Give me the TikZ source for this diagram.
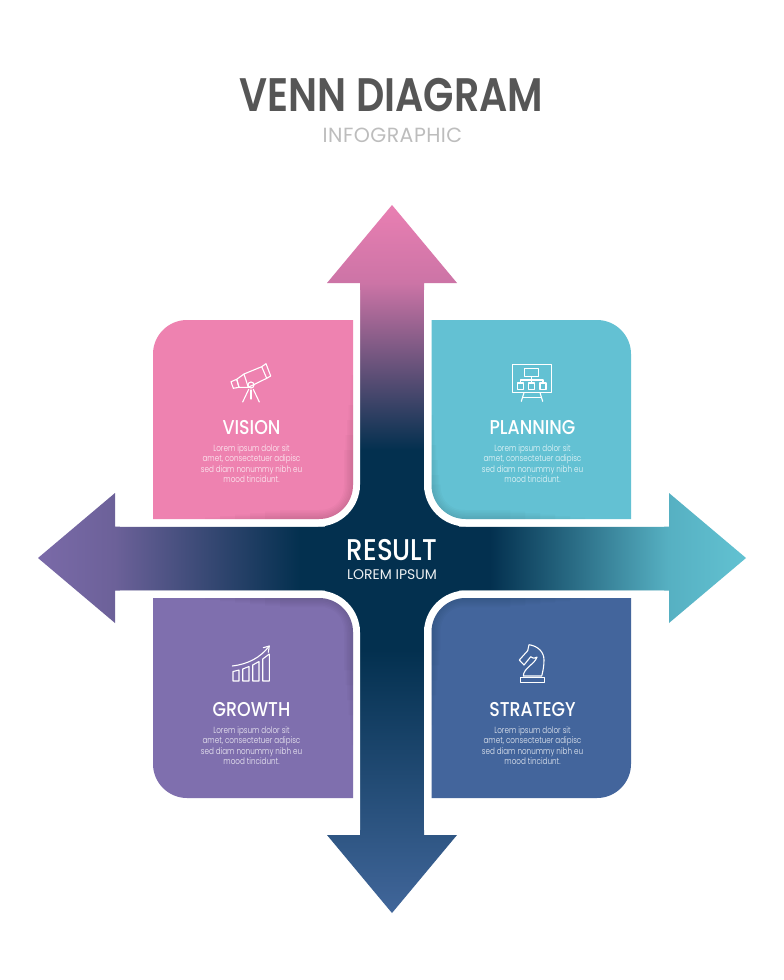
\documentclass[tikz,border=0pt]{standalone}
\usepackage{fontspec}
\setmainfont{Poppins}
\newfontfamily\titlefont[FakeStretch=0.84]{Poppins SemiBold}
\newfontfamily\headfont[FakeStretch=0.87]{Poppins Medium}
\newfontfamily\bodyfont[FakeStretch=0.8]{Poppins Light}
\newfontfamily\subfont[LetterSpace=2.2]{Poppins}
\usetikzlibrary{positioning, calc}

\definecolor{panelpink}{HTML}{EE82B0}
\definecolor{panelteal}{HTML}{63C1D3}
\definecolor{panelpurple}{HTML}{7F6FAE}
\definecolor{panelblue}{HTML}{43659C}
\definecolor{arrownavy}{HTML}{03304F}
\definecolor{arrowpink}{HTML}{E97FB2}
\definecolor{arrowmauve}{HTML}{CC74A6}
\definecolor{arrowblue}{HTML}{41669A}
\definecolor{arrowpurple}{HTML}{7A6AA8}
\definecolor{arrowviolet}{HTML}{6C6199}
\definecolor{arrowteal}{HTML}{62C2D2}
\definecolor{arrowlagoon}{HTML}{56B0C2}
\definecolor{titlegrey}{HTML}{565656}
\definecolor{subgrey}{HTML}{BDBDBD}

\pgfdeclareverticalshading{upright}{100bp}{
  color(0bp)=(arrowblue); color(25bp)=(arrowblue);
  color(43.6bp)=(arrownavy); color(57.7bp)=(arrownavy);
  color(69.5bp)=(arrowmauve); color(75bp)=(arrowpink); color(100bp)=(arrowpink)}
\pgfdeclarehorizontalshading{across}{100bp}{
  color(0bp)=(arrowpurple); color(25bp)=(arrowpurple); color(30.4bp)=(arrowviolet);
  color(43.5bp)=(arrownavy); color(56.9bp)=(arrownavy);
  color(69.5bp)=(arrowlagoon); color(75bp)=(arrowteal); color(100bp)=(arrowteal)}

% rounded top left + bottom right
\newcommand{\panelLeaf}[5]{({#3},{#2}) -- ({#1+#5},{#2})
  .. controls ({#1+0.45*#5},{#2}) and ({#1},{#2+0.45*#5}) .. ({#1},{#2+#5})
  -- ({#1},{#4}) -- ({#3-#5},{#4})
  .. controls ({#3-0.45*#5},{#4}) and ({#3},{#4-0.45*#5}) .. ({#3},{#4-#5}) -- cycle}
% rounded top right + bottom left
\newcommand{\panelFlip}[5]{({#1},{#2}) -- ({#3-#5},{#2})
  .. controls ({#3-0.45*#5},{#2}) and ({#3},{#2+0.45*#5}) .. ({#3},{#2+#5})
  -- ({#3},{#4}) -- ({#1+#5},{#4})
  .. controls ({#1+0.45*#5},{#4}) and ({#1},{#4-0.45*#5}) .. ({#1},{#4-#5}) -- cycle}

\tikzset{
  paneltitle/.style={text=white, font=\headfont\fontsize{20}{22}\selectfont, inner sep=0pt},
  panelbody/.style={text=white, text opacity=0.88, align=center, inner sep=0pt,
    font=\bodyfont\fontsize{9}{10.5}\selectfont, below=9pt of #1},
  icon/.style={draw=white, line width=1.1pt, line join=round, line cap=round},
  inshade/.style={draw=black, draw opacity=0.02}
}

\begin{document}
\begin{tikzpicture}[x=1pt, y=-1pt]
  \useasboundingbox (0,0) rectangle (784,980);
  \fill[white] (0,0) rectangle (784,980);

  \node[text=titlegrey, font=\titlefont\fontsize{47}{50}\selectfont, inner sep=0pt] (title) at (391.5,95) {VENN DIAGRAM};
  \node[text=subgrey, font=\subfont\fontsize{20.5}{22}\selectfont, inner sep=0pt] (subtitle) at (392.5,135) {INFOGRAPHIC};

  % the two arrows
  \shade[shading=across] (38,558) -- (115,493) -- (115,526.5) -- (669,526.5) -- (669,493)
    -- (746,558) -- (669,623) -- (669,590.5) -- (115,590.5) -- (115,623) -- cycle;
  \shade[shading=upright] (392,205) -- (457,283) -- (424,283) -- (424,835) -- (457,835)
    -- (392,913) -- (327,835) -- (360,835) -- (360,283) -- (327,283) -- cycle;
  \fill[arrownavy] (325,490) rectangle (459,627);

  % white collars
  \fill[white] \panelLeaf{120}{290}{360}{526.5}{42};
  \fill[white] \panelFlip{424}{290}{664}{526.5}{42};
  \fill[white] \panelFlip{120}{590.5}{360}{830}{42};
  \fill[white] \panelLeaf{424}{590.5}{664}{830}{42};

  % panels
  \fill[panelpink] \panelLeaf{153}{320}{353}{519}{34};
  \fill[panelteal] \panelFlip{431.5}{320}{631}{519}{34};
  \fill[panelpurple] \panelFlip{153}{598}{353}{798}{34};
  \fill[panelblue] \panelLeaf{431.5}{598}{631}{798}{34};

  % soft inner edges
  \begin{scope}
    \clip \panelLeaf{153}{320}{353}{519}{34};
    \foreach \w in {3,6,...,18}
      \draw[inshade, line width=\w] (353,{360+5*\w}) -- (353,485) .. controls (353,505) and (339,519) .. (319,519) -- ({190+5*\w},519);
  \end{scope}
  \begin{scope}
    \clip \panelFlip{431.5}{320}{631}{519}{34};
    \foreach \w in {3,6,...,18}
      \draw[inshade, line width=\w] (431.5,{400+5*\w}) -- (431.5,485) .. controls (431.5,505) and (445,519) .. (465,519) -- ({600-5*\w},519);
  \end{scope}
  \begin{scope}
    \clip \panelFlip{153}{598}{353}{798}{34};
    \foreach \w in {3,6,...,18}
      \draw[inshade, line width=\w] ({190+5*\w},598) -- (319,598) .. controls (339,598) and (353,612) .. (353,632) -- (353,{760-5*\w});
  \end{scope}
  \begin{scope}
    \clip \panelLeaf{431.5}{598}{631}{798}{34};
    \foreach \w in {3,6,...,18}
      \draw[inshade, line width=\w] (431.5,{740-5*\w}) -- (431.5,632) .. controls (431.5,612) and (445,598) .. (465,598) -- ({600-5*\w},598);
  \end{scope}

  \node[text=white, font=\headfont\fontsize{30}{32}\selectfont, inner sep=0pt] (result) at (392,550) {RESULT};
  \node[text=white, text opacity=0.92, font=\fontsize{14}{16}\selectfont, inner sep=0pt] (resultsub) at (392,575) {LOREM IPSUM};

  \node[paneltitle] (vision) at (251.5,428) {VISION};
  \node[panelbody=vision] (visiontext) {Lorem ipsum dolor sit\\amet, consectetuer adipisc\\sed diam nonummy nibh eu\\mood tincidunt.};
  \node[paneltitle] (planning) at (532.5,428) {PLANNING};
  \node[panelbody=planning] (planningtext) {Lorem ipsum dolor sit\\amet, consectetuer adipisc\\sed diam nonummy nibh eu\\mood tincidunt.};
  \node[paneltitle] (growth) at (251.5,710) {GROWTH};
  \node[panelbody=growth] (growthtext) {Lorem ipsum dolor sit\\amet, consectetuer adipisc\\sed diam nonummy nibh eu\\mood tincidunt.};
  \node[paneltitle] (strategy) at (532.5,710) {STRATEGY};
  \node[panelbody=strategy] (strategytext) {Lorem ipsum dolor sit\\amet, consectetuer adipisc\\sed diam nonummy nibh eu\\mood tincidunt.};

  % telescope
  \draw[icon] (244,374) -- (261.7,366.7) -- (266.7,378.3) -- (248.3,387.3);
  \draw[icon] (261.7,366.7) -- (266,363.7) -- (270.7,376) -- (266.7,378.3);
  \draw[icon] (236.7,379.3) -- (244,374) -- (248.3,387.3) -- (239,387.3) -- cycle;
  \draw[icon] (231,381.7) -- (236.7,379.3) -- (239,387.3) -- (233.3,388.3) -- cycle;
  \draw[icon] (251,385) circle (3);
  \draw[icon] (248.7,389.3) -- (242.7,402);
  \draw[icon] (253.3,389.3) -- (259.3,402);
  \draw[icon] (251,390) -- (251,399);

  % board
  \draw[icon] (512.7,364.3) rectangle (551.3,392.7);
  \draw[icon] (524.3,368.7) rectangle (538.7,376.7);
  \draw[icon] (531.7,376.7) -- (531.7,383);
  \draw[icon] (520.3,383) -- (520.3,380) -- (543,380) -- (543,383);
  \draw[icon] (517.3,383) rectangle (523.3,389.3);
  \draw[icon] (528.7,383) rectangle (534.7,389.3);
  \draw[icon] (540,383) rectangle (546,389.3);
  \draw[icon] (524,392.7) -- (521.3,401.3);
  \draw[icon] (540,392.7) -- (542.7,401.3);
  \draw[icon] (523,397.3) -- (541.3,397.3);

  % bars
  \draw[icon] (233,681) -- (233,671.5) -- (239,670) -- (239,681) -- cycle;
  \draw[icon] (242.7,681) -- (242.7,669) -- (249,666.5) -- (249,681) -- cycle;
  \draw[icon] (252.7,681) -- (252.7,665) -- (259,661.5) -- (259,681) -- cycle;
  \draw[icon] (262.7,681) -- (262.7,659) -- (269.3,654) -- (269.3,681) -- cycle;
  \draw[icon] (232.3,666) .. controls (248,664) and (260,658) .. (269.3,646);
  \draw[icon] (263.3,647.7) -- (269.3,646) -- (268.3,652.3);

  % knight
  \draw[icon] (529,644.7) .. controls (538,646) and (544,652) .. (544,660)
    .. controls (544,666) and (543,671) .. (541.7,676) -- (523.3,676)
    .. controls (523.5,668) and (535,664) .. (537,657) .. controls (534,659) and (532,658) .. (530.7,656.7)
    -- (524,665) -- (519.3,660) -- (527.7,650.7) -- cycle;
  \draw[icon] (520.5,677.5) rectangle (544.5,682.5);
\end{tikzpicture}
\end{document}
